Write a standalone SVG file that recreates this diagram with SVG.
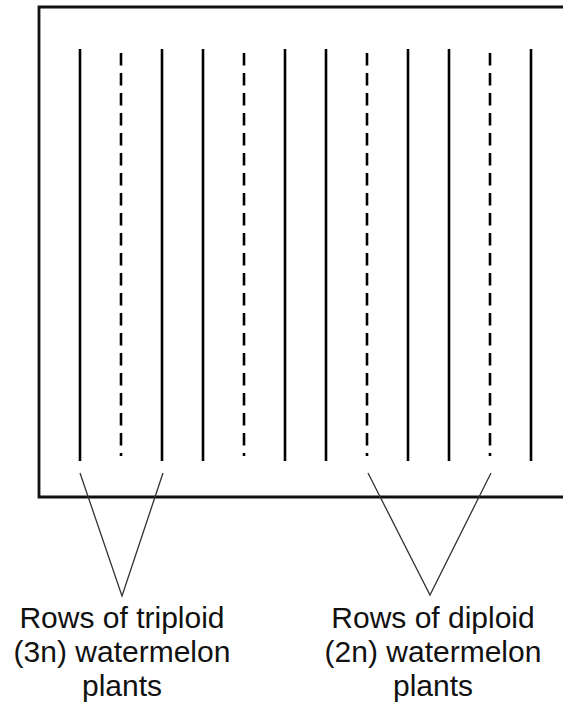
<svg xmlns="http://www.w3.org/2000/svg" width="563" height="714" viewBox="0 0 563 714">
  <style>
    .row { stroke: #000; stroke-width: 2.6; fill: none; }
    .dashed { stroke-dasharray: 12.5 7.5; }
    .pointer { stroke: #333; stroke-width: 1.3; fill: none; }
    .label { font-family: "Liberation Sans", Arial, sans-serif; font-size: 30px; fill: #111; text-anchor: middle; }
  </style>
  <rect width="563" height="714" fill="#fff"/>

  <!-- field boundary (continues past the right edge) -->
  <g id="field">
    <path d="M600 7 H39 V497 H600" fill="none" stroke="#111" stroke-width="2.8"/>
  </g>

  <!-- planting rows: solid = triploid, dashed = diploid -->
  <g id="rows">
    <line class="row" x1="80" y1="49" x2="80" y2="461"/>
    <line class="row dashed" x1="121" y1="53" x2="121" y2="456"/>
    <line class="row" x1="162" y1="49" x2="162" y2="461"/>
    <line class="row" x1="203" y1="49" x2="203" y2="461"/>
    <line class="row dashed" x1="244" y1="53" x2="244" y2="456"/>
    <line class="row" x1="285" y1="49" x2="285" y2="461"/>
    <line class="row" x1="326" y1="49" x2="326" y2="461"/>
    <line class="row dashed" x1="367" y1="53" x2="367" y2="456"/>
    <line class="row" x1="408" y1="49" x2="408" y2="461"/>
    <line class="row" x1="449" y1="49" x2="449" y2="461"/>
    <line class="row dashed" x1="490" y1="53" x2="490" y2="456"/>
    <line class="row" x1="531" y1="49" x2="531" y2="461"/>
  </g>

  <!-- label pointers -->
  <g id="connectors">
    <polyline class="pointer" points="80,473 122,596 163,473"/>
    <polyline class="pointer" points="368,473 430,595 491,473"/>
  </g>

  <g id="label-triploid">
    <text class="label" x="122" y="628">Rows of triploid</text>
    <text class="label" x="122" y="662">(3n) watermelon</text>
    <text class="label" x="122" y="696">plants</text>
  </g>

  <g id="label-diploid">
    <text class="label" x="433" y="628">Rows of diploid</text>
    <text class="label" x="433" y="662">(2n) watermelon</text>
    <text class="label" x="433" y="696">plants</text>
  </g>
</svg>
